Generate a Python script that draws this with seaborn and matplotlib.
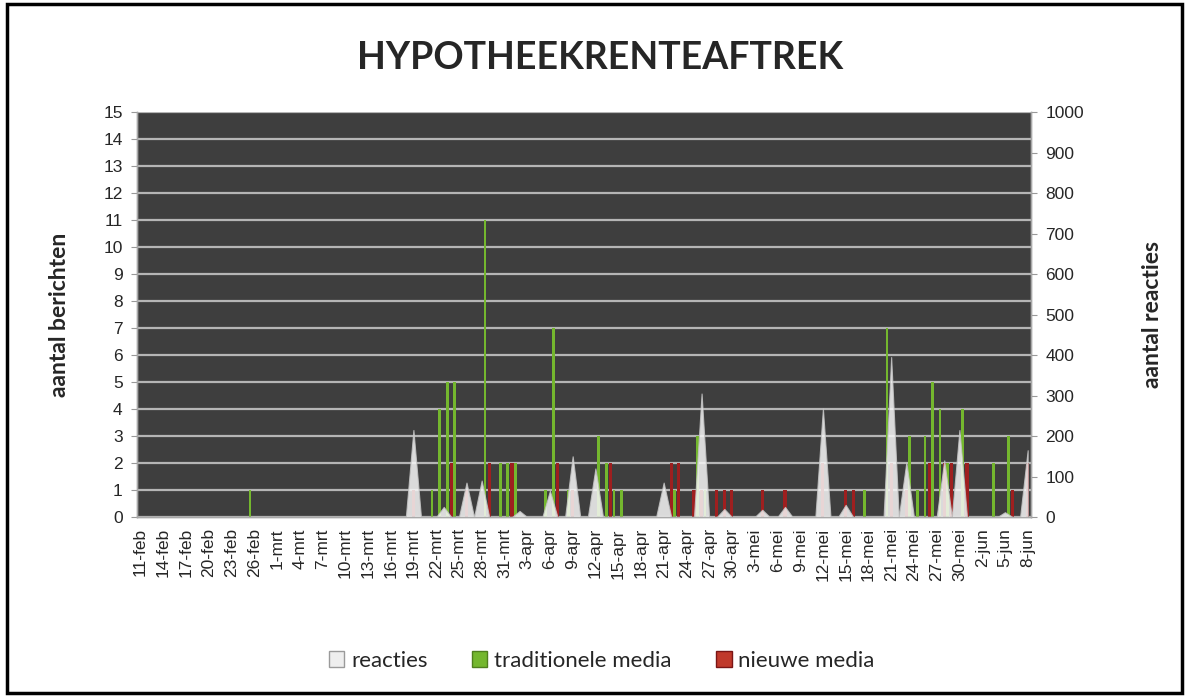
# %%

import numpy as np
import pandas as pd
import seaborn as sns
import matplotlib.pyplot as plt
from matplotlib.patches import Patch, Rectangle

# %% Data

# daily categories on the x axis
MAANDEN = {2: "feb", 3: "mrt", 4: "apr", 5: "mei", 6: "jun"}
days = pd.date_range("2010-02-11", "2010-06-08", freq="D")
categories = [f"{d.day}-{MAANDEN[d.month]}" for d in days]

# reacties (right axis)
reacties_dates = ["19-mrt", "23-mrt", "26-mrt", "28-mrt", "2-apr", "6-apr", "9-apr",
                  "12-apr", "21-apr", "26-apr", "29-apr", "4-mei", "7-mei", "12-mei",
                  "15-mei", "21-mei", "23-mei", "28-mei", "30-mei", "5-jun", "8-jun"]
reacties_vals = [215, 25, 85, 90, 15, 65, 150,
                 120, 85, 305, 20, 18, 25, 268,
                 30, 395, 135, 140, 215, 12, 165]

# traditionele media (left axis)
trad_dates = ["25-feb", "21-mrt", "22-mrt", "23-mrt", "24-mrt", "28-mrt", "30-mrt",
              "31-mrt", "1-apr", "5-apr", "6-apr", "8-apr", "12-apr", "13-apr",
              "14-apr", "15-apr", "22-apr", "25-apr", "26-apr", "17-mei", "20-mei",
              "23-mei", "24-mei", "25-mei", "26-mei", "27-mei", "28-mei", "30-mei",
              "3-jun", "5-jun"]
trad_vals = [1, 1, 4, 5, 5, 11, 2,
             2, 2, 1, 7, 1, 3, 2,
             1, 1, 1, 3, 1, 1, 7,
             3, 1, 3, 5, 4, 2, 4,
             2, 3]

# nieuwe media (left axis)
nieuw_dates = ["19-mrt", "24-mrt", "26-mrt", "29-mrt", "1-apr", "7-apr", "9-apr",
               "14-apr", "22-apr", "23-apr", "25-apr", "26-apr", "28-apr", "29-apr",
               "30-apr", "4-mei", "7-mei", "12-mei", "15-mei", "16-mei", "21-mei",
               "23-mei", "26-mei", "28-mei", "29-mei", "31-mei", "6-jun", "8-jun"]
nieuw_vals = [1, 2, 1, 2, 2, 2, 1,
              2, 2, 2, 1, 1, 1, 1,
              1, 1, 1, 2, 1, 1, 2,
              1, 2, 2, 2, 2, 1, 2]

# %% Build tables

cat_pos = {c: i for i, c in enumerate(categories)}

df_reacties = pd.DataFrame({"pos": np.arange(len(categories)), "reacties": 0.0})
df_reacties.loc[[cat_pos[d] for d in reacties_dates], "reacties"] = reacties_vals

df_trad = pd.DataFrame({"pos": [cat_pos[d] + 0.45 for d in trad_dates], "n": trad_vals})
df_nieuw = pd.DataFrame({"pos": [cat_pos[d] for d in nieuw_dates], "n": nieuw_vals})

# %% Plot

sns.set_style("white")
plt.rcParams["font.family"] = ["Liberation Sans", "DejaVu Sans"]

GREEN = "#74b72e"
RED = "#9e1f1f"
BG = "#3e3e3e"
GRID = "#b5b5b5"

fig = plt.figure(figsize=(11.89, 6.97), dpi=100)
ax = fig.add_axes([0.1149, 0.2582, 0.7526, 0.5811])
ax.set_facecolor(BG)

# traditionele media and nieuwe media as thin spikes
sns.barplot(data=df_trad, x="pos", y="n", native_scale=True, width=0.36,
            color=GREEN, saturation=1, errorbar=None, linewidth=0, ax=ax)
sns.barplot(data=df_nieuw, x="pos", y="n", native_scale=True, width=0.4,
            color=RED, saturation=1, errorbar=None, linewidth=0, ax=ax)

ax.set_ylim(0, 15)
ax.set_yticks(range(0, 16))
ax.set_axisbelow(True)
ax.yaxis.grid(True, color=GRID, linewidth=1.6)
ax.xaxis.grid(False)

# x axis: label every 3rd day, tick marks on the category edges
ax.set_xlim(-0.5, len(categories) - 0.5)
ax.set_xticks(range(0, len(categories), 3))
ax.set_xticklabels(categories[::3], rotation=90, fontsize=12.5)
ax.set_xticks(np.arange(-0.5, len(categories), 3), minor=True)
ax.tick_params(axis="x", which="major", length=0, pad=8)
ax.tick_params(axis="x", which="minor", length=5, color="#999999", width=1)
ax.tick_params(axis="y", labelsize=12.5, length=4, color="#999999", pad=6)
ax.set_xlabel("")
ax.set_ylabel("aantal berichten", family="Lato", fontweight="bold", fontsize=16.5)
ax.yaxis.set_label_coords(-0.074, 0.5)

# reacties on the secondary axis, drawn on top
ax2 = ax.twinx()
ax2.fill_between(df_reacties["pos"], df_reacties["reacties"], color="#f6f6f6",
                 alpha=0.85, edgecolor="#c4c4c4", linewidth=0.8)
ax2.set_ylim(0, 1000)
ax2.set_yticks(range(0, 1001, 100))
ax2.tick_params(axis="y", labelsize=12.5, length=4, color="#999999", pad=6)
ax2.set_ylabel("aantal reacties", family="Lato", fontweight="bold", fontsize=16.5,
               rotation=90)
ax2.yaxis.set_label_coords(1.124, 0.5)

for a in (ax, ax2):
    a.spines["top"].set_visible(False)
    for s in ("left", "right", "bottom"):
        a.spines[s].set_color("#a8a8a8")
        a.spines[s].set_linewidth(1)

# title
fig.text(0.505, 0.917, "HYPOTHEEKRENTEAFTREK", family="Lato", fontweight="bold",
         fontsize=27, ha="center", va="center")

# legend
handles = [Patch(facecolor="#eeeeee", edgecolor="#9a9a9a", label="reacties"),
           Patch(facecolor=GREEN, edgecolor="#4f7f1e", label="traditionele media"),
           Patch(facecolor="#c0392b", edgecolor="#7a1515", label="nieuwe media")]
fig.legend(handles=handles, loc="center", bbox_to_anchor=(0.506, 0.052), ncol=3,
           frameon=False, prop={"family": "Lato", "size": 16},
           handlelength=0.7, handleheight=0.7, handletextpad=0.3, columnspacing=2.0)

# outer frame
fig.patches.append(Rectangle((0.006, 0.006), 0.988, 0.988, transform=fig.transFigure,
                             fill=False, edgecolor="black", linewidth=2.5))

fig.savefig("out.png", dpi=100)
